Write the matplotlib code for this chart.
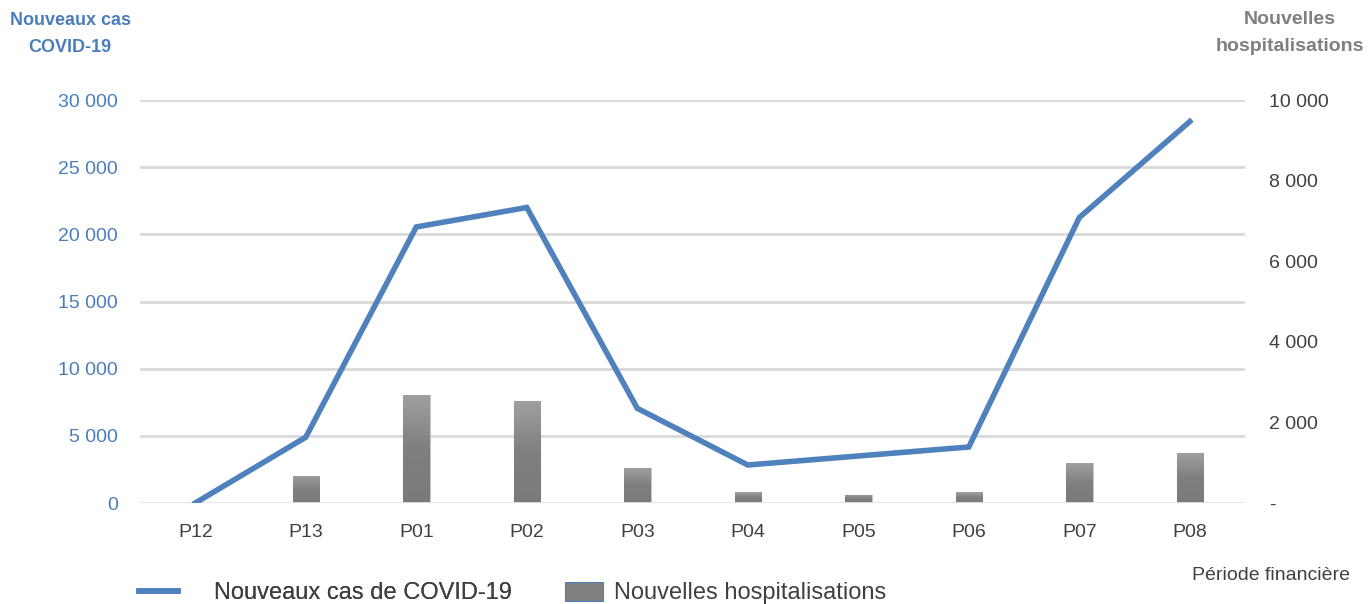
import matplotlib
matplotlib.use("Agg")
import matplotlib.pyplot as plt
import numpy as np
from matplotlib.lines import Line2D
from matplotlib.patches import Patch
from matplotlib.colors import LinearSegmentedColormap

plt.rcParams['font.family'] = ['Liberation Sans Narrow', 'Liberation Sans', 'DejaVu Sans']

periods = ["P12", "P13", "P01", "P02", "P03", "P04", "P05", "P06", "P07", "P08"]
new_cases = [0, 4900, 20550, 22000, 7050, 2830, 3500, 4170, 21250, 28400]
hospitalisations = [0, 670, 2680, 2530, 870, 270, 200, 270, 990, 1240]
left_ticks = [0, 5000, 10000, 15000, 20000, 25000, 30000]
left_ticklabels = ["0", "5 000", "10 000", "15 000", "20 000", "25 000", "30 000"]
right_ticks = [0, 2000, 4000, 6000, 8000, 10000]
right_ticklabels = ["-", "2 000", "4 000", "6 000", "8 000", "10 000"]

BLUE = "#4f81bd"
BLUE_TXT = "#4a7ebb"

fig = plt.figure(figsize=(13.70, 6.04), dpi=100)
ax = fig.add_axes([0.1022, 0.1672, 0.8066, 0.6672])
ax2 = ax.twinx()
x = np.arange(len(periods))

ax2.set_zorder(1)
ax.set_zorder(2)
ax.patch.set_visible(False)

bars = ax2.bar(x, hospitalisations, width=0.24, color="#808080",
               edgecolor="#c8c8c8", linewidth=0.8, zorder=2)
cmap = LinearSegmentedColormap.from_list("g", ["#7a7a7a", "#7f7f7f", "#a0a0a0"])
grad = np.linspace(0, 1, 256).reshape(-1, 1)
for b in bars:
    h = b.get_height()
    if h <= 0:
        continue
    im = ax2.imshow(grad, extent=(b.get_x(), b.get_x() + b.get_width(), 0, h),
                    origin="lower", aspect="auto", cmap=cmap, zorder=3)
    im.set_clip_path(b)

ax2.set_ylim(0, 10000)
ax2.set_yticks(right_ticks)
ax2.set_yticklabels(right_ticklabels)
ax2.tick_params(axis="y", length=0, pad=17, labelsize=14, labelcolor="#404040")

ax.plot(x, new_cases, color=BLUE, linewidth=4, solid_joinstyle="miter", zorder=5)
ax.set_ylim(0, 30000)
ax.set_xlim(-0.5, len(periods) - 0.5)
ax.set_yticks(left_ticks)
ax.set_yticklabels(left_ticklabels)
ax.tick_params(axis="y", length=0, pad=16, labelsize=14, labelcolor=BLUE_TXT)
ax.set_xticks(x)
ax.set_xticklabels(periods)
ax.tick_params(axis="x", length=0, pad=15, labelsize=14, labelcolor="#404040")

for t in left_ticks[1:]:
    ax2.axhline(t / 3.0, color="#d9d9d9", linewidth=2, zorder=0)
ax2.axhline(0, color="#dbe5f1", linewidth=2, zorder=4)

for a in (ax, ax2):
    for s in a.spines.values():
        s.set_visible(False)

fig.text(70 / 1370, 1 - 34 / 604, "Nouveaux cas\nCOVID-19", ha="center", va="center",
         fontsize=13, fontweight="bold", color=BLUE_TXT, linespacing=1.75)
fig.text(1290 / 1370, 1 - 33 / 604, "Nouvelles\nhospitalisations", ha="center", va="center",
         fontsize=14, fontweight="bold", color="#7f7f7f", linespacing=1.7)
fig.text(1350 / 1370, 1 - 575 / 604, "Période financière", ha="right", va="center",
         fontsize=14, color="#404040")

leg1 = fig.legend([Line2D([0], [0], color=BLUE, linewidth=4)],
                  ["Nouveaux cas de COVID-19"],
                  loc="center left", bbox_to_anchor=(118 / 1370, 1 - 593 / 604),
                  frameon=False, fontsize=17, handlelength=1.62,
                  handletextpad=1.55, labelcolor="#404040")
leg2 = fig.legend([Patch(facecolor="#808080", edgecolor="#4f81bd", linewidth=0.8)],
                  ["Nouvelles hospitalisations"],
                  loc="center left", bbox_to_anchor=(544 / 1370, 1 - 593 / 604),
                  frameon=False, fontsize=17, handlelength=1.6, handleheight=0.85,
                  handletextpad=0.45, labelcolor="#404040")
fig.add_artist(leg1)

fig.savefig("out.png", dpi=100, facecolor="white")
